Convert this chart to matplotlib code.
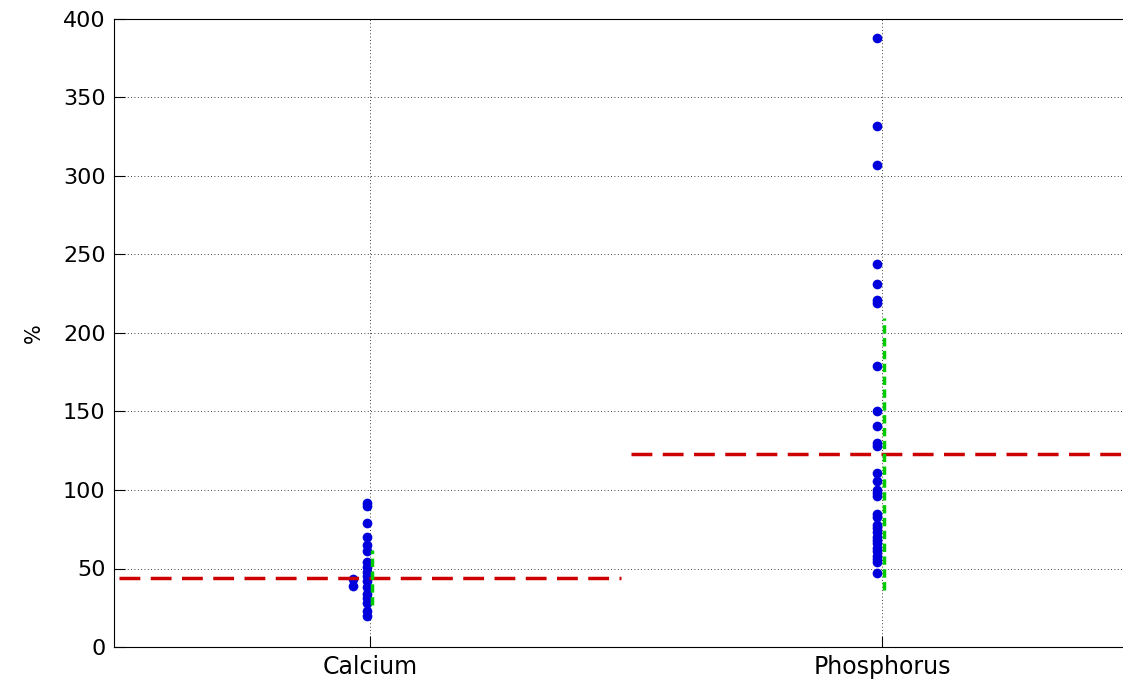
import numpy as np
import matplotlib
matplotlib.use('Agg')
import matplotlib.pyplot as plt

plt.rcParams['font.family'] = ['DejaVu Sans']

categories = ['Calcium', 'Phosphorus']

calcium = [92, 90, 79, 70, 65, 61, 54, 51, 48, 45, 42, 38, 34, 31, 28, 23, 20]
calcium_side = [43, 39]
phosphorus = [388, 332, 307, 244, 231, 221, 219, 179, 150, 141, 130, 128,
              111, 106, 100, 98, 96, 85, 83, 78, 76, 73, 70, 68, 66, 63,
              61, 58, 56, 54, 47]

means = [44, 123]
stds = [17.5, 86.5]

fig = plt.figure(figsize=(11.23, 6.8), dpi=100)
ax = fig.add_axes([114 / 1123, 33 / 680, 1024 / 1123, 628 / 680])

# points
ax.plot(np.full(len(calcium), 1 - 0.006), calcium, 'o', color='#0000dd',
        markersize=7, markeredgewidth=0)
ax.plot(np.full(len(calcium_side), 1 - 0.033), calcium_side, 'o', color='#0000dd',
        markersize=7, markeredgewidth=0)
ax.plot(np.full(len(phosphorus), 2 - 0.01), phosphorus, 'o', color='#0000dd',
        markersize=7, markeredgewidth=0)

# mean lines and std ranges
for i, (m, s) in enumerate(zip(means, stds)):
    x = i + 1
    ax.plot([x - 0.49, x + 0.49], [m, m], color='#cc0000', lw=2.5,
            linestyle=(0, (6, 3)))
    ax.plot([x + 0.003, x + 0.003], [m - s, m + s], color='#00cc00', lw=2.5,
            linestyle=(0, (2.4, 1.3)))

ax.set_xlim(0.5, 2.5)
ax.set_ylim(0, 400)
ax.set_xticks([1, 2])
ax.set_xticklabels(categories, fontsize=17)
ax.set_yticks(np.arange(0, 401, 50))
ax.tick_params(axis='y', labelsize=16)
ax.tick_params(direction='in', length=8, width=0.8, pad=6)
ax.set_ylabel('%', fontsize=15, labelpad=14)
ax.grid(True, linestyle=(0, (1, 3)), color='black', linewidth=0.6)
for sp in ax.spines.values():
    sp.set_linewidth(0.8)

plt.savefig('out.png', dpi=100)
plt.close()
